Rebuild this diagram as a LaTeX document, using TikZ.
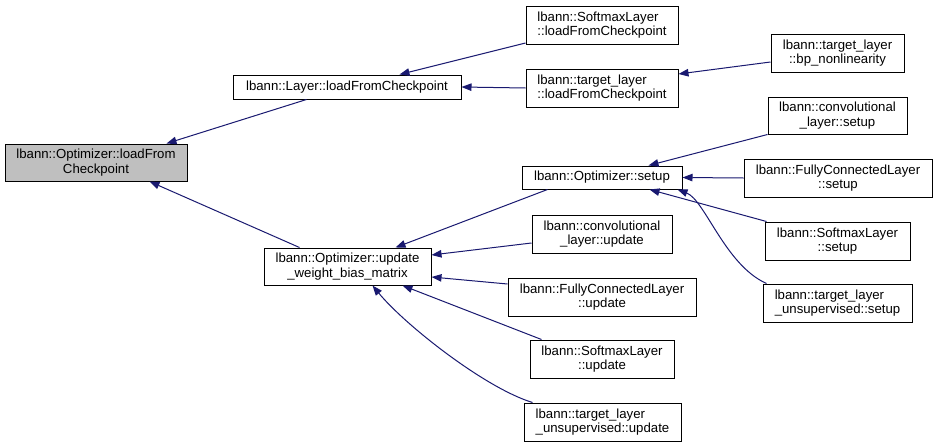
\documentclass[tikz,border=0pt]{standalone}
\usepackage{fontspec}
\setmainfont{Liberation Sans}
\usetikzlibrary{arrows.meta,calc}
\definecolor{edgeblue}{RGB}{25,25,112}
\definecolor{hilite}{RGB}{191,191,191}
\begin{document}
\begin{tikzpicture}[x=1pt,y=-1pt,
  box/.style={draw=black,line width=1pt,fill=white,inner sep=0pt,align=center,
    font=\fontsize{13.2}{14.5}\selectfont},
  lbox/.style={box,align=left},
  edge/.style={draw=edgeblue,line width=1pt,-{Triangle[length=10pt,width=7.5pt]}}]
\fill[white] (0,0) rectangle (937,447);
\useasboundingbox (0,0) rectangle (937,447);
% nodes
\node[box,fill=hilite,minimum width=182pt,minimum height=37pt] (optload) at (96,162.5) {lbann::Optimizer::loadFrom\\Checkpoint};
\node[box,minimum width=228pt,minimum height=24pt] (layerload) at (347,87) {lbann::Layer::loadFromCheckpoint};
\node[lbox,minimum width=152pt,minimum height=38pt] (smload) at (602,25) {lbann::SoftmaxLayer\\::loadFromCheckpoint};
\node[lbox,minimum width=152pt,minimum height=38pt] (tlload) at (602,88) {lbann::target\_layer\\::loadFromCheckpoint};
\node[box,minimum width=133pt,minimum height=38pt] (bpnl) at (837.5,53) {lbann::target\_layer\\::bp\_nonlinearity};
\node[box,minimum width=139pt,minimum height=37pt] (convsetup) at (837.5,115.5) {lbann::convolutional\\\_layer::setup};
\node[box,minimum width=160pt,minimum height=23pt] (optsetup) at (602,177.5) {lbann::Optimizer::setup};
\node[box,minimum width=188pt,minimum height=38pt] (fcsetup) at (838,178) {lbann::FullyConnectedLayer\\::setup};
\node[box,minimum width=145pt,minimum height=38pt] (smsetup) at (837.5,241) {lbann::SoftmaxLayer\\::setup};
\node[lbox,minimum width=149pt,minimum height=38pt] (tlusetup) at (837.5,303) {lbann::target\_layer\\\_unsupervised::setup};
\node[box,minimum width=167pt,minimum height=37pt] (wbm) at (347.5,266.5) {lbann::Optimizer::update\\\_weight\_bias\_matrix};
\node[box,minimum width=140pt,minimum height=38pt] (convupd) at (602,234) {lbann::convolutional\\\_layer::update};
\node[box,minimum width=188pt,minimum height=38pt] (fcupd) at (602,297) {lbann::FullyConnectedLayer\\::update};
\node[box,minimum width=144pt,minimum height=38pt] (smupd) at (602,359) {lbann::SoftmaxLayer\\::update};
\node[lbox,minimum width=157pt,minimum height=38pt] (tluupd) at (602.5,422) {lbann::target\_layer\\\_unsupervised::update};
% edges
\draw[edge] ([xshift=74pt]layerload.south west) -- ([xshift=162pt]optload.north west);
\draw[edge] ([xshift=36pt]wbm.north west) -- ([xshift=145pt]optload.south west);
\draw[edge] ([yshift=-18pt]smload.west) -- ([xshift=167pt]layerload.north west);
\draw[edge] (tlload.west) -- (layerload.east);
\draw[edge] ([yshift=-9pt]bpnl.west) -- ([yshift=14pt]tlload.east);
\draw[edge] ([xshift=26pt]optsetup.south west) -- ([xshift=132pt]wbm.north west);
\draw[edge] ([yshift=-9pt]convupd.west) -- ([yshift=11.5pt]wbm.east);
\draw[edge] ([yshift=13pt]fcupd.west) -- ([yshift=-10.5pt]wbm.east);
\draw[edge] ([xshift=12pt]smupd.north west) -- ([xshift=139pt]wbm.south west);
\draw[edge] ([xshift=9pt]tluupd.north west) .. controls (485,388) and (405,325) .. ([xshift=109pt]wbm.south west);
\draw[edge] (convsetup.south west) -- ([xshift=127pt]optsetup.north west);
\draw[edge] (fcsetup.west) -- (optsetup.east);
\draw[edge] ([xshift=2pt]smsetup.north west) -- ([xshift=128pt]optsetup.south west);
\draw[edge] ([xshift=4pt]tlusetup.north west) .. controls (725,265) and (705,200) .. ([xshift=156pt]optsetup.south west);
\end{tikzpicture}
\end{document}
